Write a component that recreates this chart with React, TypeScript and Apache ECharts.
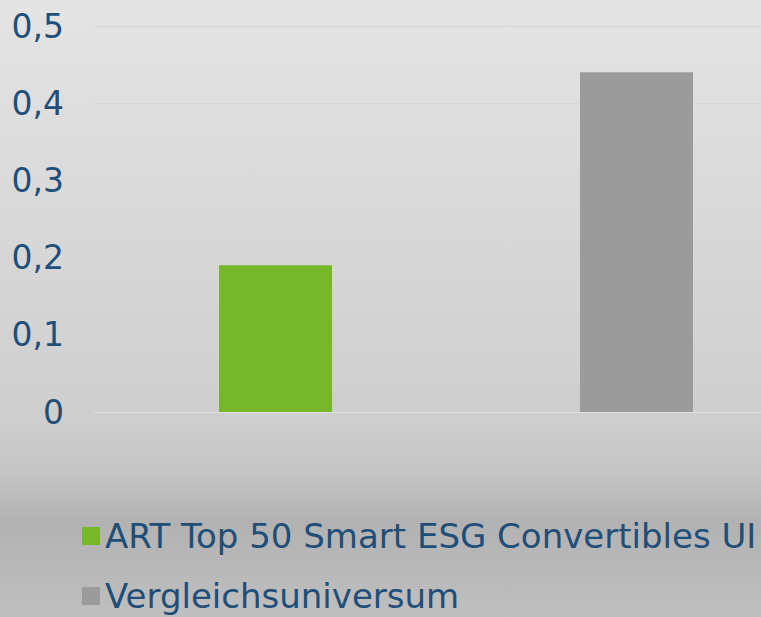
import React, { useEffect, useRef } from "react";
import * as echarts from "echarts";

const categories = ["ART Top 50 Smart ESG Convertibles UI", "Vergleichsuniversum"];
const seriesNames = ["ART Top 50 Smart ESG Convertibles UI", "Vergleichsuniversum"];
const artValues = [0.19, null];
const vergleichValues = [null, 0.44];
const yTicks = [0, 0.1, 0.2, 0.3, 0.4, 0.5];

const FONT = "DejaVu Sans";
const TEXT = "#1f4e79";

export default function App() {
  const ref = useRef<HTMLDivElement>(null);
  useEffect(() => {
    if (!ref.current) return;
    const chart = echarts.init(ref.current, undefined, { renderer: "svg" });
    const legendBase = {
      orient: "horizontal",
      left: 82,
      padding: 0,
      icon: "rect",
      itemWidth: 18,
      itemHeight: 18,
      textStyle: { fontFamily: FONT, fontSize: 34, color: TEXT, lineHeight: 34 },
    };
    chart.setOption({
      animation: false,
      backgroundColor: new echarts.graphic.LinearGradient(0, 0, 0, 1, [
        { offset: 0, color: "#e4e4e4" },
        { offset: 0.68, color: "#cecece" },
        { offset: 0.76, color: "#c6c6c6" },
        { offset: 0.845, color: "#b2b2b2" },
        { offset: 1, color: "#bfbfbf" },
      ]),
      textStyle: { fontFamily: FONT },
      grid: {
        left: 95,
        width: 722,
        top: 26,
        height: 386,
        containLabel: false,
        outerBoundsMode: "none",
      },
      legend: [
        { ...legendBase, top: 519, data: [seriesNames[0]] },
        { ...legendBase, top: 579, data: [seriesNames[1]] },
      ],
      xAxis: {
        type: "category",
        data: categories,
        axisLabel: { show: false },
        axisTick: { show: false },
        axisLine: { show: true, lineStyle: { color: "#e3e3e3", width: 1 } },
      },
      yAxis: {
        type: "value",
        min: yTicks[0],
        max: yTicks[yTicks.length - 1],
        interval: 0.1,
        axisLine: { show: false },
        axisTick: { show: false },
        splitLine: { lineStyle: { color: "#d6d6d6", width: 1 } },
        axisLabel: {
          margin: 31,
          fontFamily: FONT,
          fontSize: 33,
          color: TEXT,
          formatter: (v: number) => (v === 0 ? "0" : v.toFixed(1).replace(".", ",")),
        },
      },
      series: [
        {
          name: seriesNames[0],
          type: "bar",
          data: artValues,
          barWidth: 113,
          barGap: "-100%",
          itemStyle: { color: "#77b72a" },
        },
        {
          name: seriesNames[1],
          type: "bar",
          data: vergleichValues,
          barWidth: 113,
          barGap: "-100%",
          itemStyle: { color: "#9b9b9b" },
        },
      ],
    });
    return () => chart.dispose();
  }, []);
  return (
    <div
      ref={ref}
      style={{ position: "fixed", left: 0, top: 0, width: 761, height: 617 }}
    />
  );
}
